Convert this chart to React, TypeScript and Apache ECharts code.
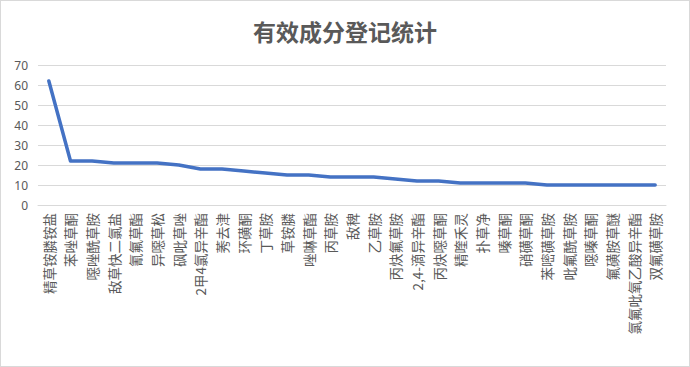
import React, { useEffect, useRef } from "react";
import * as echarts from "echarts";

const titleText = "有效成分登记统计";

const categories = [
  "精草铵膦铵盐", "苯唑草酮", "噁唑酰草胺", "敌草快二氯盐", "氰氟草酯", "异噁草松",
  "砜吡草唑", "2甲4氯异辛酯", "莠去津", "环磺酮", "丁草胺", "草铵膦", "唑啉草酯",
  "丙草胺", "敌稗", "乙草胺", "丙炔氟草胺", "2,4-滴异辛酯", "丙炔噁草酮", "精喹禾灵",
  "扑草净", "嗪草酮", "硝磺草酮", "苯嘧磺草胺", "吡氟酰草胺", "噁嗪草酮", "氟磺胺草醚",
  "氯氟吡氧乙酸异辛酯", "双氟磺草胺",
];

const counts = [
  62, 22, 22, 21, 21, 21, 20, 18, 18, 17, 16, 15, 15, 14, 14, 14, 13, 12, 12, 11,
  11, 11, 11, 10, 10, 10, 10, 10, 10,
];

const yTicks = { min: 0, max: 70, interval: 10 };

export default function App() {
  const ref = useRef<HTMLDivElement>(null);
  useEffect(() => {
    if (!ref.current) return;
    const chart = echarts.init(ref.current, undefined, { renderer: "svg" });
    chart.setOption({
      animation: false,
      backgroundColor: "#ffffff",
      title: {
        text: titleText,
        left: "center",
        top: 13,
        textStyle: {
          fontFamily: "Noto Sans CJK SC",
          fontSize: 23,
          fontWeight: "bold",
          color: "#595959",
        },
      },
      grid: { left: 37, right: 23, top: 64, bottom: 161, containLabel: false },
      xAxis: {
        type: "category",
        data: categories,
        boundaryGap: true,
        axisLine: { show: true, lineStyle: { color: "#d9d9d9", width: 1 } },
        axisTick: { show: false },
        axisLabel: {
          rotate: 90,
          interval: 0,
          margin: 8,
          fontSize: 13.5,
          color: "#595959",
          fontFamily: "Noto Sans CJK SC",
        },
      },
      yAxis: {
        type: "value",
        min: yTicks.min,
        max: yTicks.max,
        interval: yTicks.interval,
        axisLine: { show: false },
        axisTick: { show: false },
        axisLabel: { fontSize: 12, color: "#595959", margin: 10, fontFamily: "Noto Sans" },
        splitLine: { lineStyle: { color: "#d9d9d9", width: 1 } },
      },
      series: [
        {
          type: "line",
          data: counts,
          showSymbol: false,
          symbol: "none",
          lineStyle: { color: "#4472C4", width: 3.5, cap: "round", join: "round" },
          itemStyle: { color: "#4472C4" },
        },
      ],
    });
    return () => chart.dispose();
  }, []);
  return (
    <div
      style={{
        position: "absolute",
        left: 0,
        top: 0,
        width: 690,
        height: 367,
        border: "1px solid #d9d9d9",
        boxSizing: "border-box",
        background: "#fff",
      }}
    >
      <div ref={ref} style={{ width: 688, height: 365 }} />
    </div>
  );
}
